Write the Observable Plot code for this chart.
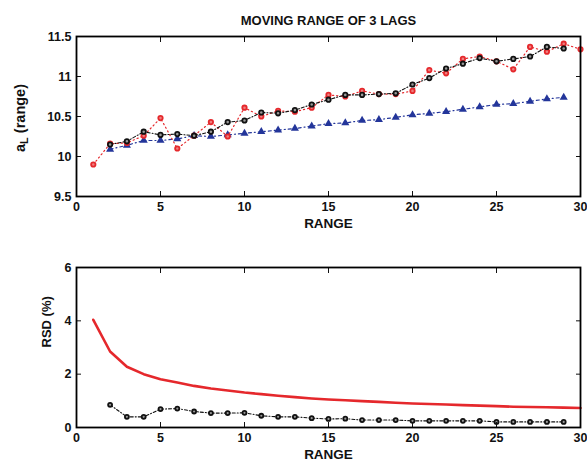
<!DOCTYPE html>
<html><head><meta charset="utf-8">
<script src="https://cdn.jsdelivr.net/npm/d3@7"></script>
<script src="https://cdn.jsdelivr.net/npm/@observablehq/plot@0.6"></script>
<style>
body{margin:0;background:#fff;}
#c{width:587px;height:468px;}
svg{display:block}
</style>
</head><body><div id="c"></div>
<script>
const title = "MOVING RANGE OF 3 LAGS";
const xLabel = "RANGE";
const yLabelTop = ["a", "L", " (range)"];
const yLabelBottom = "RSD (%)";
const xTicks = [0, 5, 10, 15, 20, 25, 30];
const yTicksTop = [9.5, 10, 10.5, 11, 11.5];
const yTicksBottom = [0, 2, 4, 6];

// Top panel series
const redX = d3.range(1, 31);
const redY = [9.90, 10.16, 10.17, 10.26, 10.48, 10.10, 10.26, 10.43, 10.25, 10.61,
              10.50, 10.57, 10.56, 10.61, 10.77, 10.75, 10.82, 10.78, 10.78, 10.82,
              11.08, 11.04, 11.22, 11.25, 11.19, 11.09, 11.37, 11.31, 11.41, 11.34];
const blackX = d3.range(2, 30);
const blackY = [10.15, 10.19, 10.31, 10.27, 10.28, 10.26, 10.31, 10.43, 10.45, 10.55,
                10.54, 10.58, 10.65, 10.71, 10.77, 10.77, 10.78, 10.79, 10.90, 10.98,
                11.10, 11.16, 11.23, 11.19, 11.22, 11.25, 11.37, 11.35];
const blueX = d3.range(2, 30);
const blueY = [10.09, 10.14, 10.20, 10.20, 10.22, 10.26, 10.25, 10.27, 10.29, 10.31,
               10.33, 10.35, 10.38, 10.41, 10.42, 10.45, 10.46, 10.49, 10.52, 10.54,
               10.56, 10.59, 10.62, 10.65, 10.66, 10.69, 10.72, 10.74];

// Bottom panel series
const rsdRedX = d3.range(1, 31);
const rsdRedY = [4.04, 2.85, 2.28, 2.00, 1.81, 1.69, 1.56, 1.46, 1.39, 1.31,
                 1.25, 1.19, 1.14, 1.09, 1.05, 1.02, 0.99, 0.96, 0.93, 0.90,
                 0.88, 0.86, 0.84, 0.82, 0.80, 0.78, 0.77, 0.76, 0.745, 0.73];
const rsdBlackX = d3.range(2, 30);
const rsdBlackY = [0.85, 0.40, 0.40, 0.69, 0.71, 0.60, 0.54, 0.54, 0.55, 0.44,
                   0.40, 0.40, 0.35, 0.32, 0.33, 0.28, 0.28, 0.28, 0.25, 0.25,
                   0.25, 0.25, 0.25, 0.21, 0.21, 0.21, 0.21, 0.21];

const zip = (xs, ys) => xs.map((x, i) => ({x, y: ys[i]}));
const red = zip(redX, redY), black = zip(blackX, blackY), blue = zip(blueX, blueY);
const rsdRed = zip(rsdRedX, rsdRedY), rsdBlack = zip(rsdBlackX, rsdBlackY);

const FONT = "'Liberation Sans',Arial,Helvetica,sans-serif";
const RED = "#e5282c", BLACK = "#111", BLUE = "#23359a";

function frameAxes(yTicks) {
  return [
    Plot.axisX(xTicks, {anchor: "bottom", tickSize: 0, tickPadding: 6, fontSize: 12.5, label: null, tickFormat: d => String(d)}),
    Plot.axisY(yTicks, {anchor: "left", tickSize: 0, tickPadding: 5, fontSize: 12.5, label: null, tickFormat: d => String(d)}),
    Plot.axisX(xTicks, {anchor: "bottom", tickSize: -5, tickFormat: () => "", label: null}),
    Plot.axisX(xTicks, {anchor: "top", tickSize: -5, tickFormat: () => "", label: null}),
    Plot.axisY(yTicks, {anchor: "left", tickSize: -5, tickFormat: () => "", label: null}),
    Plot.axisY(yTicks, {anchor: "right", tickSize: -5, tickFormat: () => "", label: null}),
    Plot.frame({stroke: "#000", strokeWidth: 1.8})
  ];
}

const topChart = Plot.plot({
  width: 587, height: 235,
  marginTop: 36, marginBottom: 39, marginLeft: 76, marginRight: 7,
  style: {fontFamily: FONT, fontWeight: "bold", color: "#111", background: "#fff"},
  x: {domain: [0, 30]},
  y: {domain: [9.5, 11.5]},
  marks: [
    Plot.line(blue, {x: "x", y: "y", stroke: BLUE, strokeWidth: 1.2, strokeDasharray: "3,3,1,3"}),
    Plot.dot(blue, {x: "x", y: "y", symbol: "triangle", fill: BLUE, r: 3}),
    Plot.line(red, {x: "x", y: "y", stroke: RED, strokeWidth: 1.2, strokeDasharray: "1.2,3"}),
    Plot.dot(red, {x: "x", y: "y", fill: "#ee7f7f", stroke: RED, strokeWidth: 1.8, r: 2.2}),
    Plot.line(black, {x: "x", y: "y", stroke: BLACK, strokeWidth: 1.1, strokeDasharray: "3,2,1,2"}),
    Plot.dot(black, {x: "x", y: "y", fill: "#999", stroke: BLACK, strokeWidth: 1.8, r: 2.2}),
    ...frameAxes(yTicksTop),
    Plot.text([title], {frameAnchor: "top", dy: -21, fontSize: 13}),
    Plot.text([xLabel], {frameAnchor: "bottom", dy: 31, fontSize: 13.5})
  ]
});

const bottomChart = Plot.plot({
  width: 587, height: 233,
  marginTop: 32, marginBottom: 41, marginLeft: 76, marginRight: 7,
  style: {fontFamily: FONT, fontWeight: "bold", color: "#111", background: "#fff"},
  x: {domain: [0, 30]},
  y: {domain: [0, 6]},
  marks: [
    Plot.line(rsdRed, {x: "x", y: "y", stroke: RED, strokeWidth: 2.6}),
    Plot.line(rsdBlack, {x: "x", y: "y", stroke: BLACK, strokeWidth: 1.1, strokeDasharray: "3,2,1,2"}),
    Plot.dot(rsdBlack, {x: "x", y: "y", fill: "#999", stroke: BLACK, strokeWidth: 1.8, r: 2}),
    ...frameAxes(yTicksBottom),
    Plot.text([xLabel], {frameAnchor: "bottom", dy: 31, fontSize: 13.5}),
    Plot.text([yLabelBottom], {frameAnchor: "left", dx: -30, rotate: -90, fontSize: 13})
  ]
});

const c = document.getElementById("c");
c.appendChild(topChart);
c.appendChild(bottomChart);

// y label with subscript for the top panel
const t = d3.select(topChart).append("text")
  .attr("transform", `translate(21,${(36 + 196) / 2 + 2}) rotate(-90)`)
  .attr("text-anchor", "middle")
  .attr("dominant-baseline", "middle")
  .attr("font-size", 14.5)
  .attr("fill", "#111");
t.append("tspan").text(yLabelTop[0]);
t.append("tspan").attr("dy", 4).attr("font-size", 11).text(yLabelTop[1]);
t.append("tspan").attr("dy", -4).text(yLabelTop[2]);
</script>
</body></html>
